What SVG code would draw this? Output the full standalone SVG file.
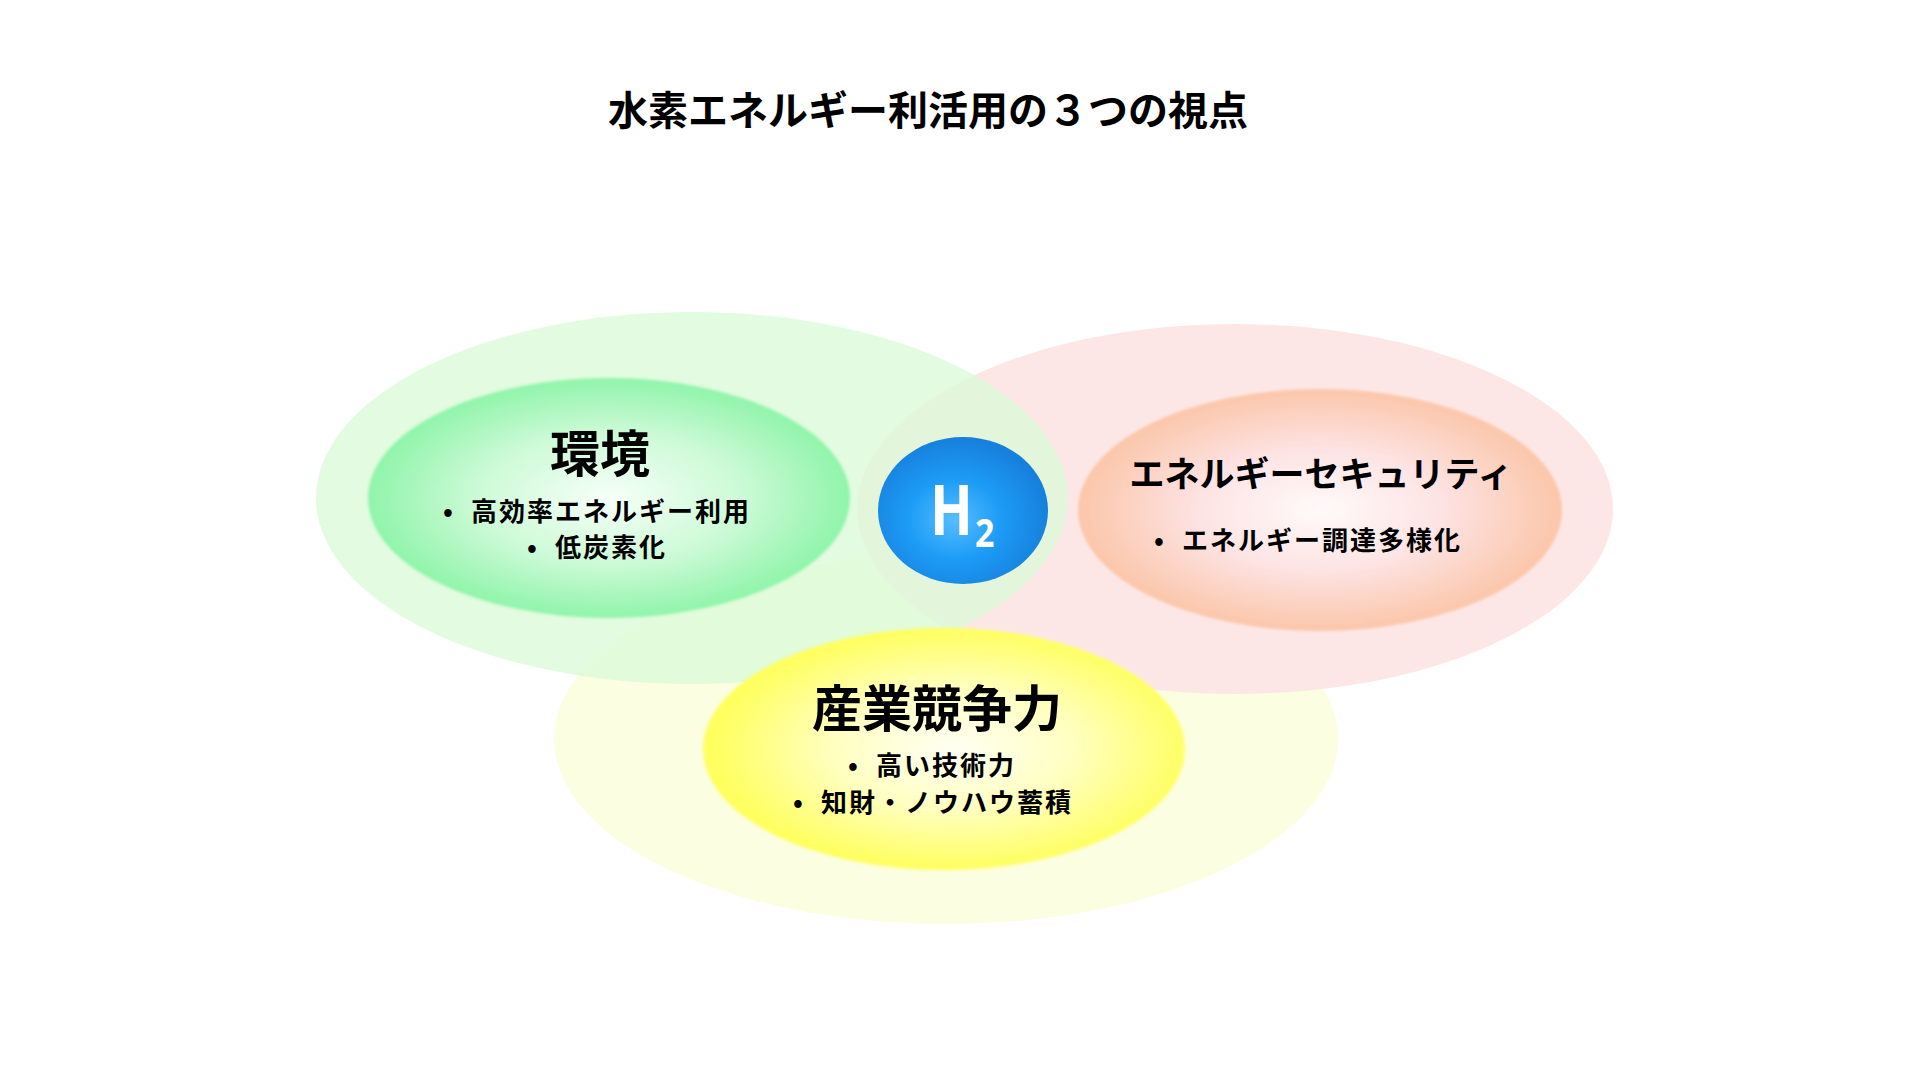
<svg xmlns="http://www.w3.org/2000/svg" width="1920" height="1080" viewBox="0 0 1920 1080">
  <style>
    text { font-family: "Noto Sans CJK JP", "Noto Sans", sans-serif; fill: #000; }
    .title { font-size: 40px; font-weight: 700; text-anchor: middle; }
    .head { font-size: 50px; font-weight: 700; text-anchor: middle; }
    .head2 { font-size: 35px; font-weight: 700; text-anchor: middle; }
    .item { font-size: 26px; font-weight: 700; text-anchor: middle; letter-spacing: 2px; }
    .h2 { font-family: "Open Sans", "Liberation Sans", sans-serif; font-weight: 700; fill: #fff; }
  </style>
  <defs>
    <radialGradient id="gGreen" cx="0.5" cy="0.5" r="0.5">
      <stop offset="0" stop-color="#f6fff8"/>
      <stop offset="0.55" stop-color="#ccfad6"/>
      <stop offset="1" stop-color="#90f4aa"/>
    </radialGradient>
    <radialGradient id="gRed" cx="0.5" cy="0.5" r="0.5">
      <stop offset="0" stop-color="#fffafa"/>
      <stop offset="0.5" stop-color="#fde3e3"/>
      <stop offset="1" stop-color="#fbc6aa"/>
    </radialGradient>
    <radialGradient id="gYellow" cx="0.52" cy="0.5" r="0.5">
      <stop offset="0" stop-color="#fffff4"/>
      <stop offset="0.5" stop-color="#ffffc0"/>
      <stop offset="1" stop-color="#ffff5e"/>
    </radialGradient>
    <radialGradient id="gBlue" cx="0.45" cy="0.56" r="0.55">
      <stop offset="0" stop-color="#58bdff"/>
      <stop offset="0.5" stop-color="#1c9cf6"/>
      <stop offset="1" stop-color="#1780dc"/>
    </radialGradient>
    <filter id="soft" x="-5%" y="-5%" width="110%" height="110%">
      <feGaussianBlur stdDeviation="1.5"/>
    </filter>
  </defs>

  <rect width="1920" height="1080" fill="#ffffff"/>

  <g id="title">
    <text class="title" x="928" y="125">水素エネルギー利活用の３つの視点</text>
  </g>

  <g id="industry-outer">
    <ellipse cx="946" cy="739" rx="392" ry="185" fill="#fbfee0"/>
  </g>
  <g id="security-outer">
    <ellipse cx="1235" cy="509" rx="378" ry="185" fill="#fde7e6"/>
  </g>
  <g id="environment-outer">
    <ellipse cx="692" cy="498" rx="376" ry="186" fill="rgb(220,250,216)" fill-opacity="0.8"/>
  </g>

  <g id="environment">
    <ellipse cx="609" cy="498" rx="241" ry="120" fill="url(#gGreen)" filter="url(#soft)"/>
    <text class="head" x="600" y="472">環境</text>
    <text class="item" x="597" y="521">•<tspan dx="16">高効率エネルギー利用</tspan></text>
    <text class="item" x="597" y="557">•<tspan dx="16">低炭素化</tspan></text>
  </g>

  <g id="security">
    <ellipse cx="1320" cy="510" rx="242" ry="121" fill="url(#gRed)" filter="url(#soft)"/>
    <text class="head2" x="1321" y="487">エネルギーセキュリティ</text>
    <text class="item" x="1308" y="550">•<tspan dx="16">エネルギー調達多様化</tspan></text>
  </g>

  <g id="industry">
    <ellipse cx="944" cy="749" rx="241" ry="121" fill="url(#gYellow)" filter="url(#soft)"/>
    <text class="head" x="937" y="727">産業競争力</text>
    <text class="item" x="932" y="775">•<tspan dx="16">高い技術力</tspan></text>
    <text class="item" x="933" y="812">•<tspan dx="16">知財・ノウハウ蓄積</tspan></text>
  </g>

  <g id="h2">
    <ellipse cx="963" cy="510.5" rx="85" ry="73.5" fill="url(#gBlue)"/>
    <text class="h2" font-size="70" transform="translate(930,535) scale(0.8,1)" x="0" y="0">H</text>
    <text class="h2" font-size="40" transform="translate(975,547) scale(0.85,1)" x="0" y="0">2</text>
  </g>

  <g id="connectors"/>
</svg>
